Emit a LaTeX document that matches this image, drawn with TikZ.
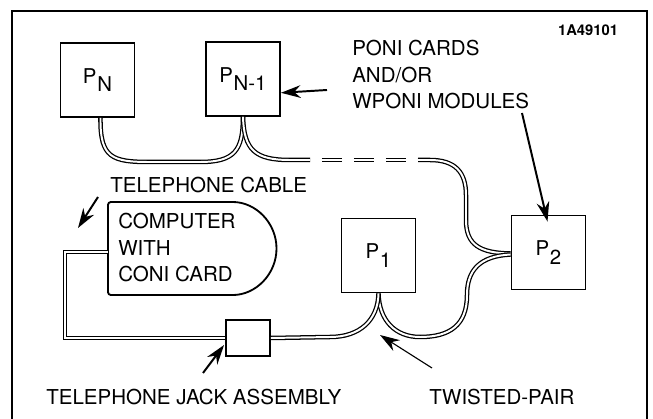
\documentclass[tikz,border=0pt]{standalone}
\usepackage{fontspec}
\setmainfont{TeX Gyre Heros}
\usepackage{tikz}
\usetikzlibrary{positioning}
\usetikzlibrary{arrows.meta}
\usetikzlibrary{calc}

\newcommand{\psub}[1]{P\kern0.5pt\raisebox{-6pt}{#1}}

\begin{document}
\begin{tikzpicture}[x=0.025cm, y=-0.025cm]
			\tikzset{
				unit/.style={rectangle, draw, line width=1.3pt, minimum width=1.85cm, minimum height=1.85cm, inner sep=0pt, font=\fontsize{14.5}{17}\selectfont},
				jack/.style={rectangle, draw, line width=1.3pt, minimum width=1.1cm, minimum height=0.9cm},
				txt/.style={inner sep=0pt, align=left, font=\fontsize{14.6}{18.9}\selectfont},
				cable/.style={double, line width=0.9pt, double distance=1.4pt},
				pointer/.style={line width=1.4pt, -{Stealth[length=14pt, width=9pt]}}
			}
			\useasboundingbox (0,0) rectangle (653,419);

			% frame
			\draw[line width=1.6pt] (12,419) -- (12,11) -- (647,11) -- (647,419);
			\node[font=\bfseries\fontsize{10.5}{12}\selectfont] (fig) at (588,30) {1A49101};

			% units on the line
			\node[unit] (pn) at (97.5,80) {\psub{N}};
			\node[unit] (pn1) at (243,79) {\psub{N-1}};
			\node[unit] (p1) at (378.5,255.5) {\psub{1}};
			\node[unit] (p2) at (548.5,252.5) {\psub{2}};
			\node[jack] (jack) at (248,338) {};

			% computer
			\draw[line width=1.3pt, rounded corners=2pt] (108,202) -- (230,202) arc[start angle=90, end angle=-90, radius=1.1625cm] -- (108,295) -- cycle;
			\node[txt, anchor=north west] (computer) at (118,213) {COMPUTER\\WITH\\CONI CARD};
			\coordinate (compin) at (108,252);

			% cables
			\draw[cable] ($(pn.south)+(3,0)$) .. controls (100,158) and (112,162) .. (150,162) -- (200,162) .. controls (235,162) and (243,150) .. (pn1.south);
			\draw[cable] (pn1.south) .. controls (244,150) and (255,160) .. (290,160) -- (310,160);
			\draw[cable, dash pattern=on 14.2pt off 8.5pt, dash phase=14.2pt] (310,160) -- (418,160);
			\draw[cable] (418,160) -- (430,160) .. controls (455,160) and (466,172) .. (466,195) -- (466,220) .. controls (466,245) and (480,253) .. ($(p2.west)+(0,1)$);
			\draw[cable] ($(p2.west)+(0,2)$) .. controls (480,256) and (467,270) .. (467,295) .. controls (467,325) and (450,337) .. (420,337) .. controls (395,337) and (379,320) .. (p1.south);
			\draw[cable] (p1.south) .. controls (378,320) and (360,337) .. (330,337) -- (jack.east);
			\draw[cable] (jack.west) -- (65,338) -- (65,252) -- (compin);

			% labels
			\node[txt, anchor=north west] (poni) at (352,40) {PONI CARDS\\AND/OR\\WPONI MODULES};
			\node[txt, anchor=west] (tcable) at (110,185) {TELEPHONE CABLE};
			\node[txt, anchor=west] (tjack) at (46,397) {TELEPHONE JACK ASSEMBLY};
			\node[txt, anchor=west] (tpair) at (429,397) {TWISTED-PAIR};

			% pointers
			\coordinate (ponitail) at (327,90);
			\coordinate (p2tail) at (522,113);
			\coordinate (cabletail) at (98,197);
			\coordinate (cabletip) at (78,228);
			\coordinate (jacktail) at (203,373);
			\coordinate (pairtail) at (432,368);
			\coordinate (pairtip) at (380,335);
			\draw[pointer] (ponitail) -- (pn1.-20);
			\draw[pointer] (p2tail) -- ($(p2.north)+(-1,7)$);
			\draw[pointer] (cabletail) -- (cabletip);
			\draw[pointer] (jacktail) -- ($(jack.west)+(-1,7)$);
			\draw[pointer, line width=0.8pt] (pairtail) -- (pairtip);
		\end{tikzpicture}
\end{document}
